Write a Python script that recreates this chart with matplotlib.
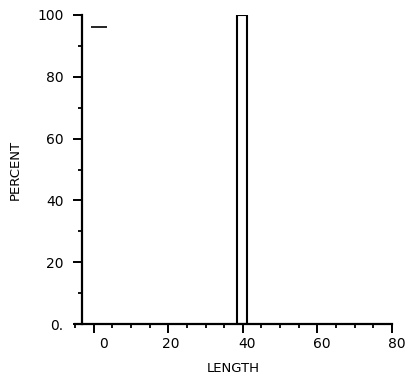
import matplotlib
matplotlib.use("Agg")
import matplotlib.pyplot as plt
from matplotlib.ticker import MultipleLocator, FixedLocator
from matplotlib.transforms import ScaledTranslation

# Data
bar_left = [38.5]
bar_width = [2.5]
bar_height = [100]
mark_x = [1.5]
mark_y = [96]
xticks = [0, 20, 40, 60, 80]
xticklabels = ["0", "20", "40", "60", "80"]
yticks = [0, 20, 40, 60, 80, 100]
yticklabels = ["0.", "20", "40", "60", "80", "100"]

fig = plt.figure(figsize=(4.11, 3.83), dpi=100)
ax = fig.add_axes([75/411, 1-324/383, (392-75)/411, (324-15)/383])

ax.bar(bar_left, bar_height, width=bar_width, align='edge',
       facecolor='white', edgecolor='black', linewidth=1.5)
ax.plot(mark_x, mark_y, marker='_', markersize=11, markeredgewidth=1.2,
        color='black', linestyle='none')

ax.set_xlim(-5, 80)
ax.set_ylim(0, 100)
ax.spines['top'].set_visible(False)
ax.spines['right'].set_visible(False)
ax.spines['left'].set_position(('data', -3))
for s in ('left', 'bottom'):
    ax.spines[s].set_linewidth(1.6)

ax.xaxis.set_major_locator(FixedLocator(xticks))
ax.set_xticklabels(xticklabels)
ax.xaxis.set_minor_locator(MultipleLocator(5))
ax.yaxis.set_major_locator(FixedLocator(yticks))
ax.set_yticklabels(yticklabels)
ax.yaxis.set_minor_locator(MultipleLocator(10))

ax.tick_params(axis='both', which='major', length=6.5, width=1.4,
               labelsize=10, direction='out')
ax.tick_params(axis='x', which='major', pad=3)
ax.tick_params(axis='y', which='major', pad=7)
ax.tick_params(axis='both', which='minor', length=3, width=1.3, direction='out')

# slight rightward shift of x tick labels as in the reference
shifts = [10, 3, 4, 4, 5]
for lab, dx in zip(ax.get_xticklabels(), shifts):
    lab.set_transform(lab.get_transform() + ScaledTranslation(dx/100, 0, fig.dpi_scale_trans))

ax.set_xlabel("LENGTH", fontsize=9.5, labelpad=8)
ax.set_ylabel("PERCENT", fontsize=9.5)
ax.yaxis.set_label_coords(-0.168, 0.5)

fig.savefig("out.png", dpi=100, facecolor='white')
